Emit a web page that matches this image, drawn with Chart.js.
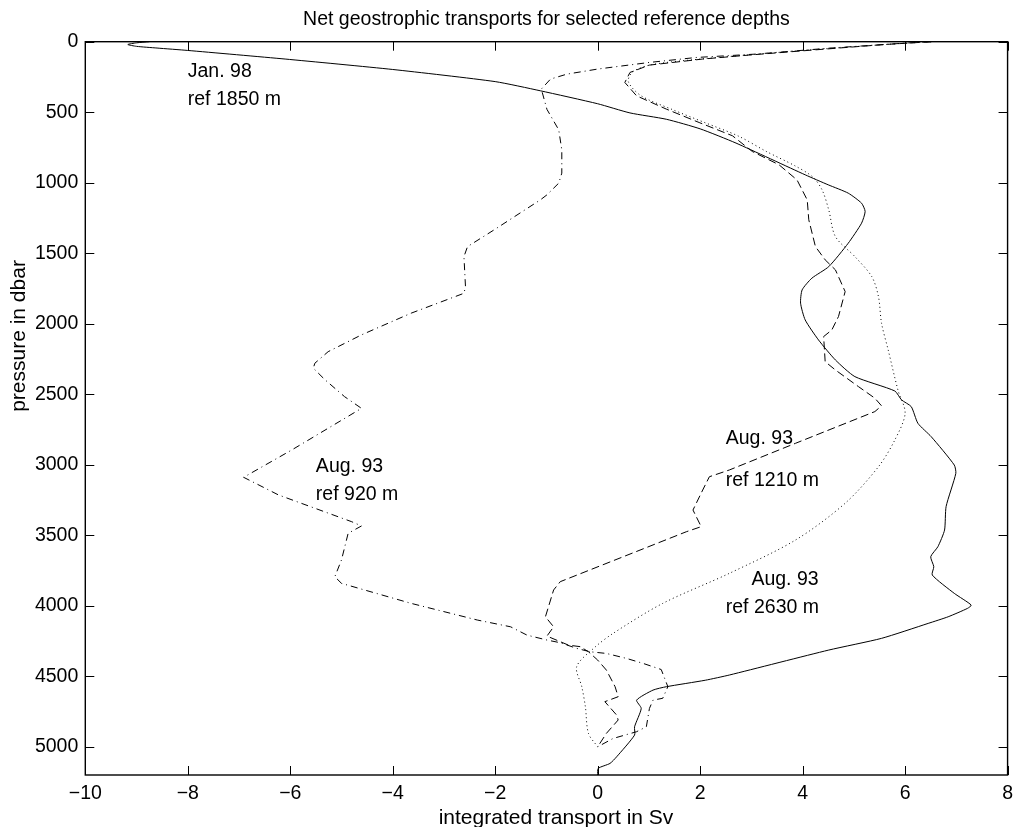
<!DOCTYPE html>
<html>
<head>
<meta charset="utf-8">
<title>Net geostrophic transports</title>
<script src="https://cdn.jsdelivr.net/npm/chart.js@4.4.0/dist/chart.umd.min.js"></script>
<style>
  body { margin: 0; background: #fff; }
  #wrap { width: 1020px; height: 827px; }
</style>
</head>
<body>
<div id="wrap"><canvas id="myChart" width="1020" height="827"></canvas></div>
<script>

// integrated transport (Sv) against pressure (dbar)
var janX = [-8.75, -9.0, -9.17, -9.0, -8.6, -8.0, -6.1, -4.0, -2.0, -1.12, 0.0, 0.63, 1.34, 2.0, 2.7,
            4.05, 4.5, 4.89, 5.15, 5.22, 5.15, 4.89, 4.51, 4.18, 3.99, 3.96, 4.05, 4.31, 4.64, 5.02,
            5.8, 5.93, 6.12, 6.25, 6.51, 6.96, 6.99, 6.8, 6.77, 6.64, 6.5, 6.56, 6.53, 6.96, 7.29,
            7.22, 6.84, 6.45, 5.54, 4.51, 2.57, 2.1, 1.34, 1.08, 0.76, 0.85, 0.72, 0.72, 0.37, 0.24, 0.01, 0.0];
var janP = [0, 8, 20, 33, 45, 62, 123, 197, 283, 348, 440, 505, 550, 618, 719,
            944, 1015, 1074, 1145, 1204, 1287, 1429, 1595, 1677, 1760, 1854, 1973, 2115, 2257, 2375,
            2477, 2540, 2588, 2706, 2801, 3002, 3061, 3297, 3463, 3581, 3652, 3723, 3782, 3912, 3995,
            4018, 4078, 4125, 4231, 4314, 4491, 4528, 4574, 4598, 4669, 4728, 4858, 4917, 5071, 5118, 5153, 5200];

var ref1210X = [6.51, 5.6, 3.99, 2.95, 2.05, 1.01, 0.63, 0.53, 0.76, 1.34, 1.98, 2.63, 3.02, 3.54, 3.89,
                4.09, 4.12, 4.25, 4.44, 4.64, 4.83, 4.7, 4.57, 4.41, 4.44, 4.64, 5.09, 5.41, 5.54, 5.41,
                3.86, 2.57, 2.18, 2.05, 1.86, 2.02, 1.73, -0.73, -0.86, -1.02, -0.86, -0.99, -0.57, -0.34, -0.18,
                0.0, 0.17, 0.34, 0.4, 0.14, 0.37, 0.4, 0.17, 0.0];
var ref1210P = [0, 20, 65, 95, 123, 166, 218, 289, 384, 478, 573, 667, 779, 873, 980,
                1122, 1263, 1453, 1547, 1618, 1772, 1949, 2044, 2091, 2269, 2328, 2446, 2528, 2582, 2623,
                2848, 3037, 3085, 3179, 3321, 3439, 3475, 3829, 3888, 4078, 4149, 4215, 4279, 4290, 4326,
                4385, 4456, 4574, 4645, 4680, 4775, 4810, 4905, 5000];

var ref2630X = [6.51, 5.6, 4.0, 3.0, 2.1, 1.05, 0.68, 0.6, 0.85, 1.45, 2.1, 2.75, 3.3, 3.85, 4.2,
                4.38, 4.51, 4.64, 5.02, 5.35, 5.48, 5.54, 5.67, 5.86, 6.0, 5.8, 5.48, 4.83, 3.86, 2.57,
                1.27, 0.3, -0.08, -0.41, -0.31, -0.24, -0.18, 0.0];
var ref2630P = [0, 20, 62, 92, 120, 163, 215, 285, 384, 480, 575, 670, 780, 880, 960,
                1051, 1193, 1382, 1524, 1666, 1808, 1996, 2186, 2470, 2635, 2824, 3014, 3273, 3534, 3770,
                3983, 4196, 4302, 4432, 4574, 4716, 4905, 5000];

var ref920X = [6.51, 6.0, 4.51, 3.08, 1.92, 1.01, 0.0, -0.6, -0.92, -1.1, -0.99, -0.76, -0.7, -0.7, -0.76,
               -0.99, -1.12, -2.02, -2.54, -2.61, -2.58, -2.61, -3.64, -4.61, -5.26, -5.52, -5.55, -5.32, -4.94, -4.61,
               -5.97, -6.91, -6.23, -4.8, -4.61, -4.87, -5.0, -5.13, -5.0, -3.64, -2.35, -1.7, -1.38, -0.99, -0.73,
               -0.41, -0.15, 0.17, 0.56, 0.89, 1.24, 1.37, 1.27, 1.08, 1.01, 0.95, 0.76, 0.3, 0.0];
var ref920P = [0, 10, 46, 88, 112, 147, 194, 230, 265, 336, 480, 625, 767, 932, 1003,
               1086, 1122, 1334, 1453, 1524, 1737, 1784, 1925, 2079, 2198, 2280, 2315, 2398, 2517, 2600,
               2895, 3089, 3214, 3404, 3434, 3486, 3675, 3794, 3841, 3983, 4101, 4149, 4208, 4243, 4262,
               4302, 4326, 4338, 4373, 4409, 4452, 4574, 4656, 4669, 4728, 4858, 4893, 4941, 5000];

var xTicks = [-10, -8, -6, -4, -2, 0, 2, 4, 6, 8];
var yTicks = [0, 500, 1000, 1500, 2000, 2500, 3000, 3500, 4000, 4500, 5000];

// text labels inside the axes, placed in data units
var noteText = ['Jan. 98', 'ref 1850 m', 'Aug. 93', 'ref 920 m', 'Aug. 93', 'ref 1210 m', 'Aug. 93', 'ref 2630 m'];
var noteX    = [-8, -8, -5.5, -5.5, 2.5, 2.5, 3.0, 2.5];
var noteP    = [200, 400, 3000, 3200, 2800, 3100, 3800, 4000];

var FONT = '"Liberation Sans", Arial, Helvetica, sans-serif';

function pts(xs, ps) {
    return xs.map(function (x, i) { return {x: x, y: ps[i]}; });
}

function line(xs, ps, dash, tension) {
    return {
        data: pts(xs, ps),
        showLine: true,
        borderColor: '#000',
        borderWidth: 1,
        borderDash: dash,
        pointRadius: 0,
        tension: tension,
        fill: false
    };
}

function minus(v) {
    return String(v).replace('-', '\u2212');
}

const frame = {
    id: 'frame',
    afterDraw(chart) {
        const ctx = chart.ctx, a = chart.chartArea;
        const xs = chart.scales.x, ys = chart.scales.y;
        ctx.save();
        ctx.strokeStyle = '#000';
        ctx.lineWidth = 1;
        ctx.beginPath();
        xTicks.forEach(function (v) {
            var px = Math.round(xs.getPixelForValue(v)) + 0.5;
            ctx.moveTo(px, a.bottom); ctx.lineTo(px, a.bottom - 9);
            ctx.moveTo(px, a.top); ctx.lineTo(px, a.top + 9);
        });
        yTicks.forEach(function (v) {
            var py = Math.round(ys.getPixelForValue(v)) + 0.5;
            ctx.moveTo(a.left, py); ctx.lineTo(a.left + 9, py);
            ctx.moveTo(a.right, py); ctx.lineTo(a.right - 9, py);
        });
        ctx.stroke();
        ctx.lineWidth = 1.4;
        ctx.strokeRect(a.left, a.top, a.right - a.left, a.bottom - a.top);

        ctx.fillStyle = '#000';
        ctx.font = '19.5px ' + FONT;
        ctx.textBaseline = 'alphabetic';
        ctx.textAlign = 'left';
        for (var i = 0; i < noteText.length; i++) {
            ctx.fillText(noteText[i], xs.getPixelForValue(noteX[i]), ys.getPixelForValue(noteP[i]) + 7);
        }

        ctx.textAlign = 'center';
        ctx.fillText('Net geostrophic transports for selected reference depths', (a.left + a.right) / 2, 25);

        ctx.font = '21px ' + FONT;
        ctx.fillText('integrated transport in Sv', 556, 824);

        ctx.translate(25, 336);
        ctx.rotate(-Math.PI / 2);
        ctx.fillText('pressure in dbar', 0, 0);
        ctx.restore();
    }
};

const ctx = document.getElementById('myChart').getContext('2d');
var myChart = new Chart(ctx, {
    type: 'scatter',
    data: {
        datasets: [
            line(janX, janP, [], 0.2),
            line(ref1210X, ref1210P, [8, 4], 0),
            line(ref2630X, ref2630P, [1, 3], 0.3),
            line(ref920X, ref920P, [7, 4, 1, 4], 0)
        ]
    },
    options: {
        responsive: false,
        animation: false,
        devicePixelRatio: 1,
        layout: { padding: { top: 41.7, right: 6.7, bottom: 0, left: 0 } },
        plugins: {
            legend: { display: false },
            tooltip: { enabled: false },
            title: { display: false }
        },
        scales: {
            x: {
                type: 'linear',
                min: -10,
                max: 8,
                grid: { display: false, drawTicks: false },
                border: { display: false },
                afterBuildTicks: function (s) { s.ticks = xTicks.map(function (v) { return {value: v}; }); },
                afterFit: function (s) { s.height = 52; },
                ticks: {
                    padding: 7,
                    color: '#000',
                    font: { family: FONT, size: 19.5 },
                    maxRotation: 0,
                    callback: function (v) { return minus(v); }
                }
            },
            y: {
                type: 'linear',
                reverse: true,
                min: 0,
                max: 5200,
                grid: { display: false, drawTicks: false },
                border: { display: false },
                afterBuildTicks: function (s) { s.ticks = yTicks.map(function (v) { return {value: v}; }); },
                afterFit: function (s) { s.width = 85.3; },
                ticks: {
                    padding: 7,
                    color: '#000',
                    font: { family: FONT, size: 19.5 },
                    callback: function (v) { return String(v); }
                }
            }
        }
    },
    plugins: [frame]
});

</script>
</body>
</html>
